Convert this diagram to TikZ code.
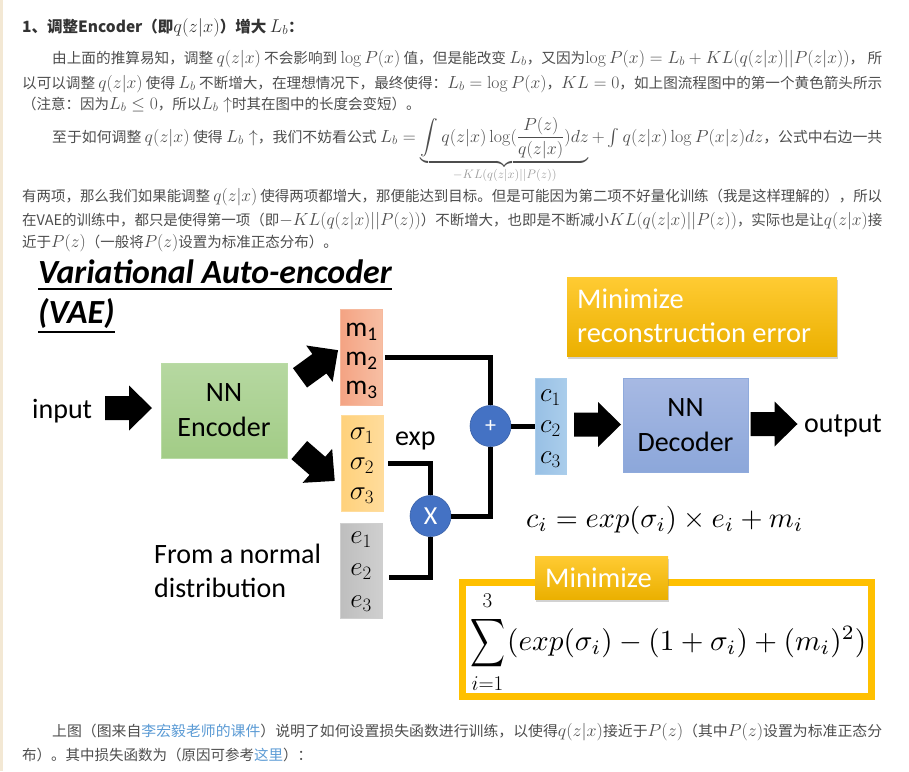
\RequirePackage{fix-cm}
\documentclass[tikz,border=0pt]{standalone}
\usepackage{amsmath}
\usepackage{graphicx}
\usepackage[no-math]{fontspec}
\setmainfont{Noto Sans CJK SC}
\newfontfamily\carl{Carlito}
\usetikzlibrary{shadows}
\definecolor{txt}{HTML}{4D4D4D}
\definecolor{head}{HTML}{333333}
\definecolor{linkc}{HTML}{5B9BD5}
\definecolor{brgray}{HTML}{9A9A9A}
\definecolor{beige}{HTML}{F3E8D4}
\definecolor{gold}{HTML}{FFC000}
\definecolor{goldt}{HTML}{FFCB33}
\definecolor{goldb}{HTML}{EBB000}
\definecolor{encT}{HTML}{B6D8A1}
\definecolor{encB}{HTML}{A2CC86}
\definecolor{encD}{HTML}{B9DBA5}
\definecolor{decT}{HTML}{A7B9E3}
\definecolor{decB}{HTML}{8CA7DA}
\definecolor{decD}{HTML}{8FAADC}
\definecolor{mL}{HTML}{F4A383}
\definecolor{mR}{HTML}{F7BFA4}
\definecolor{sL}{HTML}{FFD17B}
\definecolor{sR}{HTML}{FFDC9C}
\definecolor{eL}{HTML}{BEBEBE}
\definecolor{eR}{HTML}{CFCFCF}
\definecolor{cL}{HTML}{98C0E5}
\definecolor{cR}{HTML}{AACDEB}
\definecolor{circ}{HTML}{4472C4}
\newcommand\mth[1]{{\fontsize{17.5}{20}\selectfont$#1$}}
\newcommand\fitw[2]{\resizebox{#1}{\height}{#2}}
\begin{document}
\begin{tikzpicture}[x=1pt,y=-1pt,
  line/.style={anchor=base west, inner sep=0pt, text=txt, font=\fontsize{14.5}{18}\selectfont},
  dtext/.style={inner sep=0pt, anchor=base west, font=\carl\fontsize{28}{34}\selectfont},
  blockarrow/.pic={\fill[black] (-23.5,-12) -- (0.5,-12) -- (0.5,-22.5) -- (23.5,0) -- (0.5,22.5) -- (0.5,12) -- (-23.5,12) -- cycle;},
  vbox/.style={inner sep=0pt, minimum width=42pt, minimum height=96pt, line width=0.8pt},
  vtext/.style={inner sep=0pt, align=center},
  wire/.style={line width=5pt},
  dot/.style={circle, fill=circ, draw=circ!85!black, line width=0.6pt, minimum size=41pt,
    inner sep=0pt, text=white, font=\carl\fontsize{26}{30}\selectfont},
  goldbox/.style={top color=goldt, bottom color=goldb, draw=none, inner sep=0pt,
    drop shadow={opacity=0.35, shadow xshift=1pt, shadow yshift=-2.5pt}},
  nnbox/.style={inner sep=0pt, align=center, font=\carl\fontsize{28}{35}\selectfont, line width=1pt},
  wtext/.style={inner sep=0pt, anchor=base west, text=white, font=\carl\fontsize{28.5}{34}\selectfont},
  ttl/.style={inner sep=0pt, anchor=base west, font=\carl\bfseries\itshape\fontsize{33.8}{38}\selectfont},
  lim/.style={inner sep=0pt, font=\fontsize{21}{24}\selectfont}
]
\useasboundingbox (0,0) rectangle (909,771);
\fill[white] (0,0) rectangle (909,771);
\fill[beige] (0,0) rectangle (2.5,771);

% ---------- text above ----------
\node[line, text=head, font=\fontsize{15.5}{19}\selectfont] (h) at (22,32) {\bfseries 1、调整Encoder（即{\fontsize{18.5}{20}\selectfont$q(z|x)$}）增大 {\fontsize{18.5}{20}\selectfont$L_b$}：};
\node[line] (p1a) at (52,63) {\fitw{830pt}{由上面的推算易知，调整 \mth{q(z|x)} 不会影响到 \mth{\log P(x)} 值，但是能改变 \mth{L_b}，又因为\mth{\log P(x)=L_b+KL(q(z|x)||P(z|x))}， 所}};
\node[line] (p1b) at (22,88) {\fitw{860pt}{以可以调整 \mth{q(z|x)} 使得 \mth{L_b} 不断增大，在理想情况下，最终使得：\mth{L_b=\log P(x)}，\mth{KL=0}，如上图流程图中的第一个黄色箭头所示}};
\node[line] (p1c) at (22,109) {（注意：因为\mth{L_b\leq 0}，所以\mth{L_b\uparrow}时其在图中的长度会变短）。};
\node[line] (p2a) at (52,142) {\fitw{830pt}{至于如何调整 \mth{q(z|x)} 使得 \mth{L_b\uparrow}，我们不妨看公式 \mth{L_b=\underbrace{\displaystyle\int q(z|x)\log(\frac{P(z)}{q(z|x)})dz}_{\rule{0pt}{9pt}\textcolor{brgray}{-KL(q(z|x)||P(z))}}+\int q(z|x)\log P(x|z)dz}，公式中右边一共}};
\node[line] (p2b) at (22,201) {\fitw{860pt}{有两项，那么我们如果能调整 \mth{q(z|x)} 使得两项都增大，那便能达到目标。但是可能因为第二项不好量化训练（我是这样理解的），所以}};
\node[line] (p2c) at (22,225) {\fitw{860pt}{在VAE的训练中，都只是使得第一项（即\mth{-KL(q(z|x)||P(z))}）不断增大，也即是不断减小\mth{KL(q(z|x)||P(z))}，实际也是让\mth{q(z|x)}接}};
\node[line] (p2d) at (22,247) {近于\mth{P(z)}（一般将\mth{P(z)}设置为标准正态分布）。};

% ---------- diagram ----------
\node[ttl] (t1) at (38,283) {Variational Auto-encoder};
\node[ttl] (t2) at (38,323) {(VAE)};
\draw[line width=2pt] ([yshift=-5.5pt]t1.base west) -- ([yshift=-5.5pt]t1.base east);
\draw[line width=2pt] ([yshift=-8.5pt]t2.base west) -- ([yshift=-8.5pt]t2.base east);

\node[dtext] (inp) at (32,418) {input};
\pic (a1) at (128.5,408) {blockarrow};
\node[nnbox, top color=encT, bottom color=encB, draw=encD, minimum width=126pt, minimum height=95pt] (enc) at (224,410.5) {NN\\Encoder};
\pic[rotate=36] (ua) at (319,364) {blockarrow};
\pic[rotate=-41] (da) at (317,465.5) {blockarrow};

\node[vbox, left color=mL, right color=mR, draw=mR!80!mL] (mb) at (361.5,357) {};
\node[vtext, font=\carl\fontsize{27.5}{29}\selectfont] (mbt) at (361.5,361) {m\textsubscript{1}\\m\textsubscript{2}\\m\textsubscript{3}};
\node[vbox, left color=sL, right color=sR, draw=sR] (sb) at (362,463) {};
\node[vtext, font=\fontsize{27}{30}\selectfont] (sbt) at (362,466) {$\sigma_1$\\$\sigma_2$\\$\sigma_3$};
\node[vbox, left color=eL, right color=eR, draw=eR, minimum height=95pt] (eb) at (361,570.5) {};
\node[vtext, font=\fontsize{27}{32}\selectfont] (ebt) at (361,571.5) {$e_1$\\$e_2$\\$e_3$};
\node[dtext] (expl) at (395,445) {exp};
\node[dtext] (fn1) at (154,563) {From a normal};
\node[dtext] (fn2) at (154,597) {distribution};

\node[dot] (times) at (430.5,516) {X};
\node[dot, font=\carl\fontsize{22}{26}\selectfont] (plus) at (490.5,426) {+};
\node[vbox, left color=cL, right color=cR, draw=cR, minimum width=31pt] (cb) at (550.5,426) {};
\node[vtext, font=\fontsize{27}{31}\selectfont] (cbt) at (550.5,429) {$c_1$\\$c_2$\\$c_3$};

\draw[wire] ([xshift=2pt]mb.east) -| (plus.north);
\draw[wire] ([xshift=5pt]sb.east) -| (times.north);
\draw[wire] ([xshift=7pt,yshift=-6.5pt]eb.east) -| (times.south);
\draw[wire] (times.east) -| (plus.south);
\draw[wire] (plus.east) -- (cb.west);

\pic (a2) at (597.5,424.5) {blockarrow};
\node[nnbox, top color=decT, bottom color=decB, draw=decD, minimum width=125pt, minimum height=94pt] (dec) at (685.5,425) {NN\\Decoder};
\pic (a3) at (774,424) {blockarrow};
\node[dtext] (outp) at (804,432) {output};

\node[goldbox, minimum width=270pt, minimum height=79pt] (mr) at (702,316.5) {};
\node[wtext] (mr1) at (577,308) {Minimize};
\node[wtext] (mr2) at (577,342) {reconstruction error};

\node[inner sep=0pt, anchor=base west] (cf) at (526,527) {\resizebox{277pt}{!}{$c_i = exp(\sigma_i)\times e_i + m_i$}};

\node[draw=gold, line width=7pt, fill=white, minimum width=409pt, minimum height=114pt, inner sep=0pt] (mf) at (667,639.5) {};
\node[goldbox, minimum width=133pt, minimum height=43pt] (ml) at (601.5,577.5) {};
\node[wtext] (ml1) at (545,587) {Minimize};
\node[inner sep=0pt] (sig) at (487.5,643.5) {\resizebox*{35pt}{54pt}{$\displaystyle\sum$}};
\node[lim] (sup) at (487.5,601) {$3$};
\node[lim] (sub) at (487.5,684) {$i{=}1$};
\node[inner sep=0pt, anchor=west] (rest) at (507,642) {\resizebox{359pt}{!}{$(exp(\sigma_i)-(1+\sigma_i)+(m_i)^2)$}};

% ---------- text below ----------
\node[line] (b1) at (52,736) {\fitw{830pt}{上图（图来自\textcolor{linkc}{李宏毅老师的课件}）说明了如何设置损失函数进行训练，以使得\mth{q(z|x)}接近于\mth{P(z)}（其中\mth{P(z)}设置为标准正态分}};
\node[line] (b2) at (22,760) {布）。其中损失函数为（原因可参考\textcolor{linkc}{这里}）：};
\end{tikzpicture}
\end{document}
